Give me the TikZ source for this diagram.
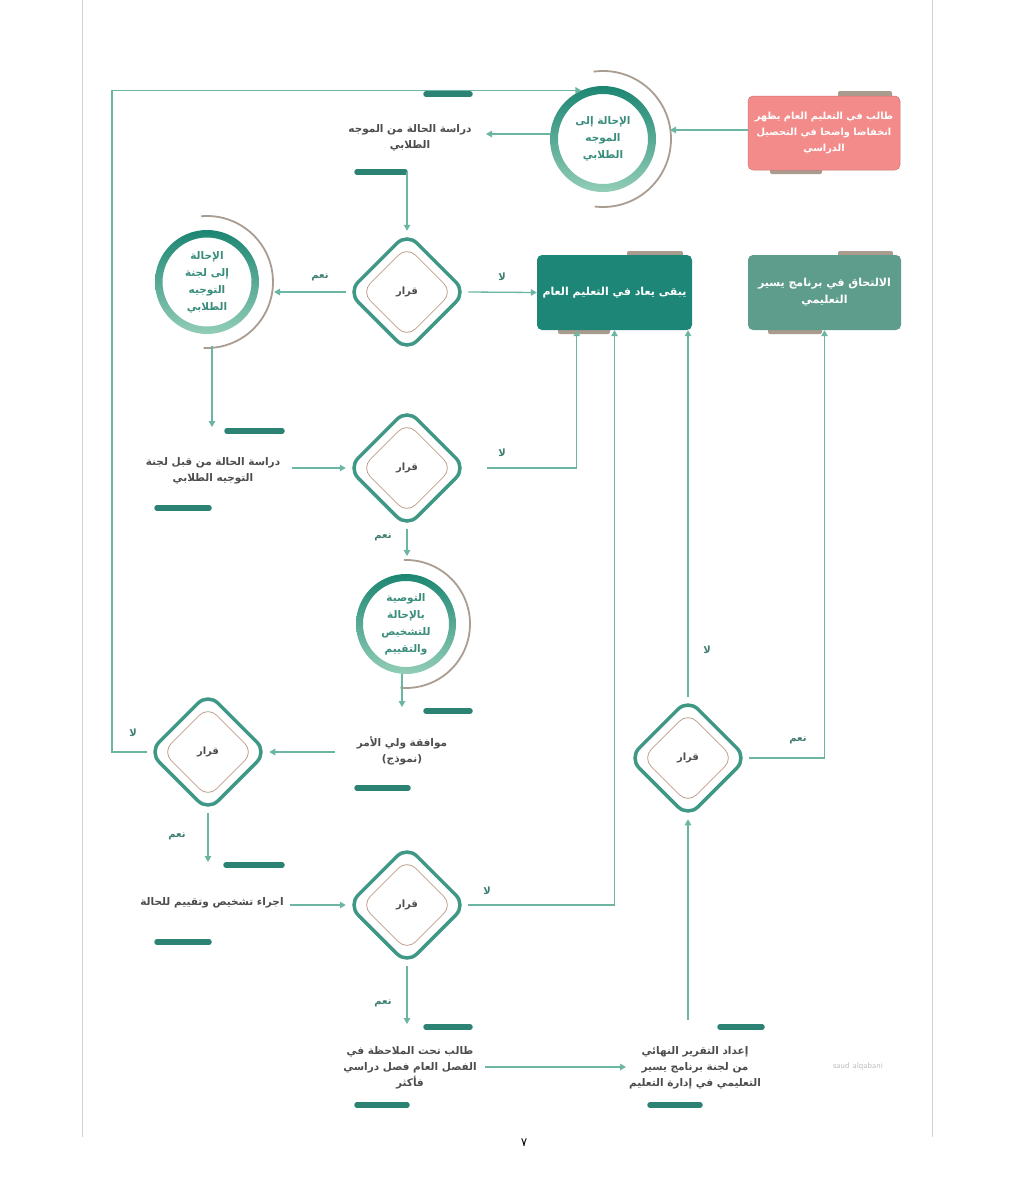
\documentclass[tikz,border=0pt]{standalone}
\usepackage{fontspec}
\setmainfont{DejaVu Sans}
\newfontfamily\arabicfont[Script=Arabic]{DejaVu Sans}
\TeXXeTstate=1
\usetikzlibrary{arrows.meta,shapes.geometric,calc}
\newcommand\RL[1]{\beginR#1\endR}
\definecolor{connc}{HTML}{6DB5A3}
\definecolor{barc}{HTML}{2D8373}
\definecolor{diamc}{HTML}{3F9886}
\definecolor{innc}{HTML}{BE9E8A}
\definecolor{txtc}{HTML}{4D4D4D}
\definecolor{lblc}{HTML}{3F7E72}
\definecolor{ringtop}{HTML}{1C8672}
\definecolor{ringbot}{HTML}{92CDB7}
\definecolor{ringtxt}{HTML}{3A8D7C}
\definecolor{arcc}{HTML}{A99D92}
\definecolor{tabc}{HTML}{A99B8D}
\definecolor{boxa}{HTML}{1D8676}
\definecolor{boxb}{HTML}{5E9D8B}
\definecolor{redc}{HTML}{F38B8B}
\definecolor{pagec}{HTML}{D2D2D2}
\begin{document}
\begin{tikzpicture}[x=1pt,y=-1pt,
 conn/.style={draw=connc,line width=1.3pt,-{Triangle[width=6.5pt,length=6pt]}},
 bar/.style={draw=barc,line width=5.5pt,line cap=round},
 dout/.style={diamond,draw=diamc,line width=3.5pt,fill=white,minimum width=119pt,minimum height=119pt,inner sep=0pt,rounded corners=14pt},
 din/.style={diamond,draw=innc,line width=0.8pt,minimum width=91pt,minimum height=91pt,inner sep=0pt,rounded corners=12pt,text=txtc,font=\arabicfont\bfseries\fontsize{10}{12}\selectfont},
 body/.style={text=txtc,align=center,inner sep=2pt,font=\arabicfont\bfseries\fontsize{10.5}{16}\selectfont},
 lbl/.style={text=lblc,inner sep=0pt,font=\arabicfont\bfseries\fontsize{10}{12}\selectfont},
 ringnode/.style={circle,inner sep=0pt,align=center,text=ringtxt,font=\arabicfont\bfseries\fontsize{10.5}{17}\selectfont},
 rarc/.style={draw=arcc,line width=1.8pt},
 tab/.style={fill=tabc,rounded corners=2pt},
 boxnode/.style={rectangle,rounded corners=5pt,minimum width=155pt,minimum height=75pt,text=white,align=center,inner sep=2pt,font=\arabicfont\bfseries\fontsize{11}{17}\selectfont}
]
\useasboundingbox (0,0) rectangle (1028,1200);
\fill[white] (0,0) rectangle (1028,1200);
% page frame
\draw[pagec,line width=1pt] (82,0) -- (82,1137);
\draw[pagec,line width=1pt] (932,0) -- (932,1137);
\node[font=\arabicfont\fontsize{12}{14}\selectfont] (pg) at (524,1143) {٧};
\node[text=black!25,font=\sffamily\fontsize{8.5}{10}\selectfont] (wm) at (858,1066) {saud alqabani};

% tabs behind boxes
\path[tab] (838,91) rectangle (892,98);
\path[tab] (770,166) rectangle (822,174);
\path[tab] (627,251) rectangle (683,258);
\path[tab] (558,327) rectangle (610,334);
\path[tab] (838,251) rectangle (893,258);
\path[tab] (768,327) rectangle (822,334);

% boxes
\node[boxnode,fill=redc,draw=redc!85!black,line width=0.5pt,minimum width=152pt,minimum height=74pt,font=\arabicfont\bfseries\fontsize{9.8}{16}\selectfont] (r) at (824,133)
 {\RL{طالب في التعليم العام يظهر}\\\RL{انخفاضا واضحا في التحصيل}\\\RL{الدراسي}};
\node[boxnode,fill=boxa] (b1) at (614.5,292.5) {\RL{يبقى يعاد  في التعليم العام}};
\node[boxnode,fill=boxb,minimum width=153pt] (b2) at (824.5,292.5) {\RL{الالتحاق في  برنامج يسير}\\\RL{التعليمي}};

% circles
\node[ringnode,minimum size=106pt] (c1) at (603,139) {\RL{الإحالة إلى}\\\RL{الموجه}\\\RL{الطلابي}};
\node[ringnode,minimum size=104pt] (c2) at (207,282) {\RL{الإحالة}\\\RL{إلى لجنة}\\\RL{التوجيه}\\\RL{الطلابي}};
\node[ringnode,minimum size=100pt] (c3) at (406,624) {\RL{التوصية}\\\RL{بالإحالة}\\\RL{للتشخيص}\\\RL{والتقييم}};
\shade[top color=ringtop,bottom color=ringbot,even odd rule] (c1.center) circle (53pt) (c1.center) circle (45pt);
\shade[top color=ringtop,bottom color=ringbot,even odd rule] (c2.center) circle (52pt) (c2.center) circle (44.5pt);
\shade[top color=ringtop,bottom color=ringbot,even odd rule] (c3.center) circle (50pt) (c3.center) circle (43pt);
\draw[rarc] (c1.center) ++(98:68pt) arc[start angle=98,end angle=-97,radius=68pt];
\draw[rarc] (c2.center) ++(95:66pt) arc[start angle=95,end angle=-93,radius=66pt];
\draw[rarc] (c3.center) ++(92:64pt) arc[start angle=92,end angle=-95,radius=64pt];

% diamonds
\foreach \n/\x/\y in {d1/407/292, d2/407/468, d3/208/752, d4/407/905, d5/688/758}{
  \node[dout] (\n) at (\x,\y) {};
  \node[din] (\n i) at (\x,\y) {\RL{قرار}};
}

% text nodes
\node[body] (t1) at (410,138) {\RL{دراسة الحالة من الموجه}\\\RL{الطلابي}};
\node[body] (t2) at (213,471) {\RL{دراسة الحالة من قبل لجنة}\\\RL{التوجيه الطلابي}};
\node[body] (t3) at (402,751) {\RL{موافقة ولي الأمر}\\\RL{(نموذج)}};
\node[body] (t4) at (212,903) {\RL{اجراء تشخيص وتقييم للحالة}};
\node[body] (t5) at (410,1068) {\RL{طالب تحت الملاحظة في}\\\RL{الفصل العام فصل دراسي}\\\RL{فأكثر}};
\node[body] (t6) at (695,1068) {\RL{إعداد التقرير النهائي}\\\RL{من لجنة برنامج يسير}\\\RL{التعليمي في إدارة التعليم}};

% decorative bars
\draw[bar] (426,94) -- (470,94);
\draw[bar] (357,172) -- (405,172);
\draw[bar] (227,431) -- (282,431);
\draw[bar] (157,508) -- (209,508);
\draw[bar] (426,711) -- (470,711);
\draw[bar] (357,788) -- (408,788);
\draw[bar] (226,865) -- (282,865);
\draw[bar] (157,942) -- (209,942);
\draw[bar] (426,1027) -- (470,1027);
\draw[bar] (357,1105) -- (407,1105);
\draw[bar] (720,1027) -- (762,1027);
\draw[bar] (650,1105) -- (700,1105);

% helper coordinates
\coordinate (loopc) at (112,752);
\coordinate (c1e) at (670,130);
\coordinate (t1b) at (407,172);
\coordinate (c2e) at (274,292);
\coordinate (t2in) at (212,427);
\coordinate (c3t) at (407,556);
\coordinate (t3in) at (402,707);
\coordinate (t3o) at (335,752);
\coordinate (d3o) at (208,862);
\coordinate (t4o) at (290,905);
\coordinate (d4o) at (407,1024);
\coordinate (t5o) at (485,1067);
\coordinate (t6in) at (626,1067);
\coordinate (t6top) at (688,1020);
\coordinate (t2o) at (292,468);
\coordinate (d2o) at (487,468);

% connectors
\draw[conn] (d3.west) -- (loopc) |- (c1.114);
\draw[conn] (r.west |- c1e) -- (c1e);
\draw[conn] (c1.west |- 0,134) -- (486,134);
\draw[conn] (t1b) -- (d1.north);
\draw[conn] (d1.west) -- (c2e);
\draw[conn] (d1.east) -- (b1.west);
\draw[conn] (c2.south -| t2in) ++(0,12) -- (t2in);
\draw[conn] (t2o) -- (d2.west);
\draw[conn] (d2o) -| ($(b1.south west)+(40,0)$);
\draw[conn] (d2.south) -- (c3t);
\draw[conn] (c3.south -| t3in) -- (t3in);
\draw[conn] (t3o) -- (d3.east);
\draw[conn] (d3.south) -- (d3o);
\draw[conn] (t4o) -- (d4.west);
\draw[conn] (d4.east) -| (b1.south);
\draw[conn] (d4.south) -- (d4o);
\draw[conn] (t5o) -- (t6in);
\draw[conn] (t6top) -- (d5.south);
\draw[conn] (d5.north) -- (d5.north |- b1.south);
\draw[conn] (d5.east) -| (b2.south);

% labels
\node[lbl] (l1) at (320,277) {\RL{نعم}};
\node[lbl] (l2) at (502,277) {\RL{لا}};
\node[lbl] (l3) at (502,453) {\RL{لا}};
\node[lbl] (l4) at (383,537) {\RL{نعم}};
\node[lbl] (l5) at (133,733) {\RL{لا}};
\node[lbl] (l6) at (177,836) {\RL{نعم}};
\node[lbl] (l7) at (487,891) {\RL{لا}};
\node[lbl] (l8) at (383,1003) {\RL{نعم}};
\node[lbl] (l9) at (707,650) {\RL{لا}};
\node[lbl] (l10) at (798,740) {\RL{نعم}};
\end{tikzpicture}
\end{document}
